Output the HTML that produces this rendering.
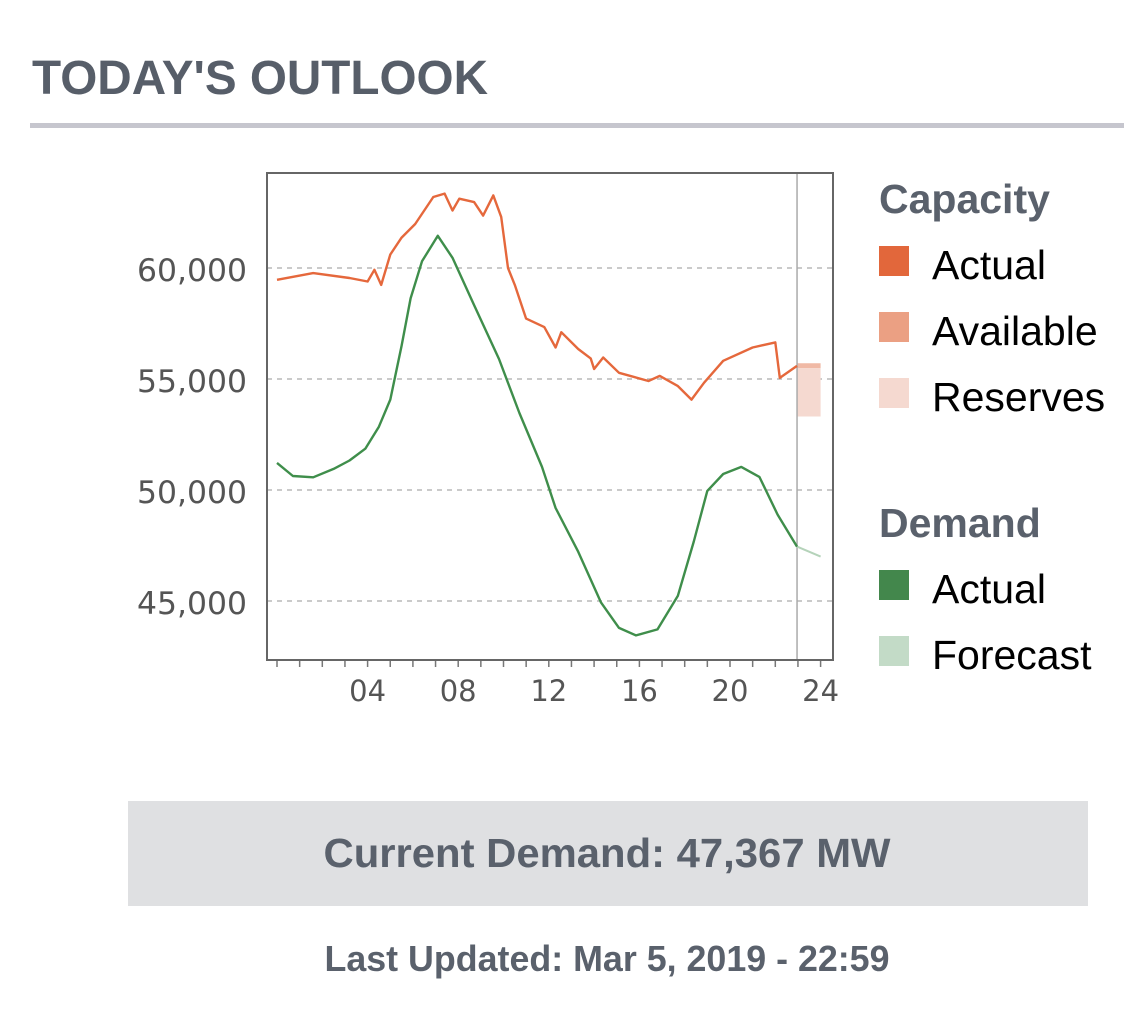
<!DOCTYPE html>
<html><head><meta charset="utf-8"><style>
html,body{margin:0;padding:0;background:#fff;}
svg{display:block;}
</style></head><body>
<svg id="page" width="1124" height="1013" viewBox="0 0 1124 1013" xmlns="http://www.w3.org/2000/svg">
<text x="32" y="94" font-family="Liberation Sans, sans-serif" font-weight="bold" font-size="48" fill="#575e69" textLength="456" lengthAdjust="spacingAndGlyphs">TODAY'S OUTLOOK</text>
<rect x="30" y="123" width="1094" height="5" fill="#c6c6ce"/>
<g id="chart"></g>
<g font-family="Liberation Sans, sans-serif">
<text x="879" y="213" font-size="41" font-weight="bold" fill="#5a616c">Capacity</text>
<rect x="879" y="246" width="30" height="30" fill="#e2673b"/>
<text x="932" y="279" font-size="41" fill="#000">Actual</text>
<rect x="879" y="312" width="30" height="30" fill="#eba083"/>
<text x="932" y="345" font-size="41" fill="#000">Available</text>
<rect x="879" y="378" width="30" height="30" fill="#f5d9d0"/>
<text x="932" y="411" font-size="41" fill="#000">Reserves</text>
<text x="879" y="537" font-size="41" font-weight="bold" fill="#5a616c">Demand</text>
<rect x="879" y="570" width="30" height="30" fill="#43874c"/>
<text x="932" y="603" font-size="41" fill="#000">Actual</text>
<rect x="879" y="636" width="30" height="30" fill="#c3dbc7"/>
<text x="932" y="669" font-size="41" fill="#000">Forecast</text>
</g>
<rect x="128" y="801" width="960" height="105" fill="#dfe0e2"/>
<text x="607" y="867" text-anchor="middle" font-family="Liberation Sans, sans-serif" font-weight="bold" font-size="41" fill="#5a616c" textLength="567" lengthAdjust="spacingAndGlyphs">Current Demand: 47,367 MW</text>
<text x="607" y="971" text-anchor="middle" font-family="Liberation Sans, sans-serif" font-weight="bold" font-size="36" fill="#5a616c" textLength="565" lengthAdjust="spacingAndGlyphs">Last Updated: Mar 5, 2019 - 22:59</text>
</svg>
<script>
const yTicks = [45000, 50000, 55000, 60000];
const yTickLabels = ["45,000", "50,000", "55,000", "60,000"];
const xTicks = [4, 8, 12, 16, 20, 24];
const xTickLabels = ["04", "08", "12", "16", "20", "24"];
const capHours = [0,1.6,3.2,4.0,4.3,4.6,5.0,5.5,6.1,6.9,7.4,7.75,8.05,8.7,9.1,9.55,9.9,10.2,10.5,11.0,11.8,12.3,12.55,13.3,13.85,14.0,14.4,15.1,16.4,16.9,17.7,18.3,18.85,19.7,21.0,22.0,22.2,22.96];
const capValues = [59470,59770,59550,59390,59920,59240,60610,61370,61980,63200,63350,62590,63120,62970,62360,63270,62300,60000,59240,57720,57340,56420,57110,56350,55930,55450,55970,55280,54910,55140,54680,54070,54830,55820,56420,56650,55050,55590];
const demHours = [0,0.7,1.6,2.5,3.2,3.9,4.5,5.0,5.5,5.9,6.4,7.1,7.75,8.7,9.8,10.7,11.7,12.3,13.3,14.3,15.1,15.85,16.8,17.7,18.4,19.0,19.7,20.5,21.3,22.1,22.96];
const demValues = [51220,50630,50570,50950,51330,51860,52850,54070,56500,58630,60300,61450,60460,58330,55900,53470,51040,49190,47220,44940,43790,43450,43720,45240,47680,49960,50720,51040,50590,48890,47450];
const fcHours = [22.96, 24];
const fcValues = [47450, 47000];
const resHours = [22.96, 24];
const availTop = 55710;
const reserveBottom = 53310;
const nowHour = 22.96;

const NS = "http://www.w3.org/2000/svg";
const chart = document.getElementById('chart');
const L = 267, R = 833, T = 173, B = 660;
const xs = h => 277 + h * 22.65;
const ys = v => 268 + (60000 - v) / 5000 * 111;
function mk(tag, attrs, parent) {
  const e = document.createElementNS(NS, tag);
  for (const k in attrs) e.setAttribute(k, attrs[k]);
  (parent || chart).appendChild(e);
  return e;
}
yTicks.forEach((v, i) => {
  const g = mk('line', {x1: L, x2: R, y1: ys(v), y2: ys(v), stroke: '#b8b8b8', 'stroke-width': 1.5, 'stroke-dasharray': '5,5'});
  
  
  const t = mk('text', {x: 247, y: ys(v) + 13, 'text-anchor': 'end', 'font-family': 'DejaVu Sans, sans-serif', 'font-size': 31, fill: '#555', textLength: 110, lengthAdjust: 'spacingAndGlyphs'});
  t.textContent = yTickLabels[i];
  
  
});
for (let h = 0; h <= 24; h++) {
  const tk = mk('line', {x1: xs(h), x2: xs(h), y1: B, y2: B + 7, stroke: '#777', 'stroke-width': 1.5});
  
  
}
xTicks.forEach((h, i) => {
  const t = mk('text', {x: xs(h), y: 701, 'text-anchor': 'middle', 'font-family': 'DejaVu Sans, sans-serif', 'font-size': 29, fill: '#555'});
  t.textContent = xTickLabels[i];
  
  
});
const avail = mk('rect', {x: xs(resHours[0]), y: ys(availTop), width: xs(resHours[1]) - xs(resHours[0]), height: 5, fill: '#f0b9a5'});


const res = mk('rect', {x: xs(resHours[0]), y: ys(availTop) + 5, width: xs(resHours[1]) - xs(resHours[0]), height: ys(reserveBottom) - ys(availTop) - 5, fill: '#f5d9d0'});


const nl = mk('line', {x1: xs(nowHour), x2: xs(nowHour), y1: T, y2: B, stroke: '#aaa', 'stroke-width': 1.5});


function pts(hs, vs) { return hs.map((h, i) => xs(h).toFixed(1) + ',' + ys(vs[i]).toFixed(1)).join(' '); }
const cap = mk('polyline', {points: pts(capHours, capValues), fill: 'none', stroke: '#e5683c', 'stroke-width': 2.4, 'stroke-linejoin': 'round'});


const fc = mk('polyline', {points: pts(fcHours, fcValues), fill: 'none', stroke: '#b5d3ba', 'stroke-width': 2});


const dem = mk('polyline', {points: pts(demHours, demValues), fill: 'none', stroke: '#3f8e4b', 'stroke-width': 2.4, 'stroke-linejoin': 'round'});


const fr = mk('rect', {x: L, y: T, width: R - L, height: B - T, fill: 'none', stroke: '#666', 'stroke-width': 2});


</script>
</body></html>
